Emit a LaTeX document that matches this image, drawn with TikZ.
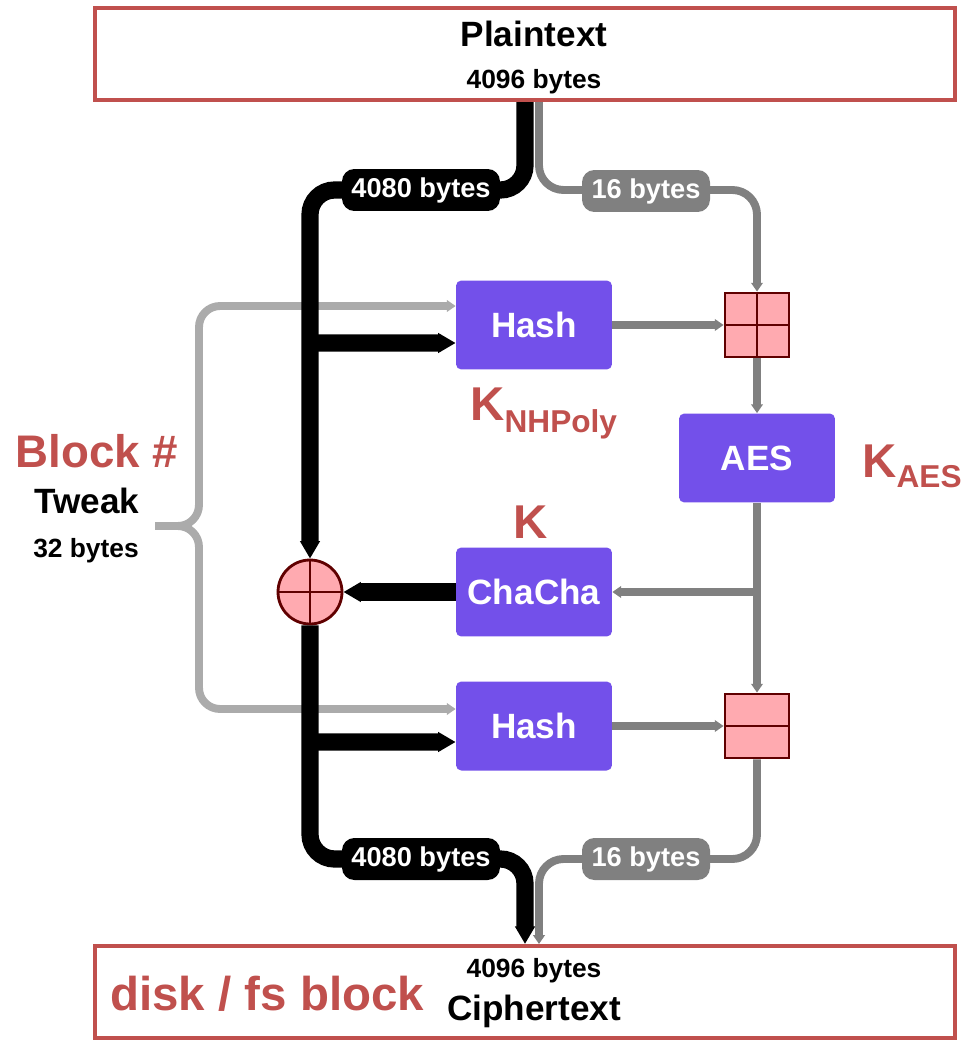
\documentclass[tikz,border=0pt]{standalone}
\usepackage{fontspec}
\setmainfont{Liberation Sans}
\usetikzlibrary{positioning,arrows.meta,calc}
\definecolor{frame}{RGB}{192,80,77}
\definecolor{block}{RGB}{115,80,234}
\definecolor{mix}{RGB}{255,170,176}
\definecolor{mixline}{RGB}{96,0,0}
\definecolor{wire}{RGB}{128,128,128}
\definecolor{tweakwire}{RGB}{171,171,171}
\newcommand{\sizept}[1]{\fontsize{#1}{#1}\selectfont}

\begin{document}
\begin{tikzpicture}[x=0.02cm, y=-0.02cm,
		frm/.style={draw=frame, line width=2.3pt, minimum width=17.2cm, minimum height=1.84cm, inner sep=0pt},
		blk/.style={fill=block, text=white, font=\bfseries\sizept{20}, minimum width=3.12cm, minimum height=1.78cm, rounded corners=3pt, inner sep=0pt},
		mixbox/.style={draw=mixline, fill=mix, line width=1.6pt, minimum size=1.28cm, inner sep=0pt},
		pill/.style={text=white, font=\bfseries\sizept{15.5}, rounded corners=7pt, minimum height=0.84cm, inner sep=0pt},
		lbl/.style={inner sep=0pt, anchor=base, font=\bfseries},
		key/.style={inner sep=0pt, anchor=base west, text=frame, font=\bfseries\sizept{27}},
		bwire/.style={line width=9.8pt, black, -{Triangle[length=10pt, width=10.8pt]}},
		gwire/.style={line width=4.5pt, wire, -{Triangle[length=5pt, width=6.5pt]}},
		twire/.style={line width=4.5pt, tweakwire, -{Triangle[length=5pt, width=6.5pt]}}]
	\useasboundingbox (0,0) rectangle (967,1040);
	% input and output blocks
	\node[frm] (plain) at (525,54) {};
	\node[lbl, font=\bfseries\sizept{20}] (plainname) at (534,47) {Plaintext};
	\node[lbl, font=\bfseries\sizept{15}] (plainsize) at (534,89) {4096 bytes};
	\node[frm] (cipher) at (525,992) {};
	\node[lbl, font=\bfseries\sizept{15}] (ciphersize) at (534,977) {4096 bytes};
	\node[lbl, font=\bfseries\sizept{20}] (ciphername) at (534,1020) {Ciphertext};
	\node[key] (disk) at (110,1010) {disk / fs block};
	% primitives
	\node[blk] (hashA) at (534,325) {Hash};
	\node[blk] (aes) at (757,458) {AES};
	\node[blk] (chacha) at (534,592) {ChaCha};
	\node[blk] (hashB) at (534,726) {Hash};
	\node[mixbox] (mixA) at (757,325) {};
	\draw[mixline, line width=1.6pt] (mixA.north) -- (mixA.south) (mixA.west) -- (mixA.east);
	\node[mixbox] (mixB) at (757,726) {};
	\draw[mixline, line width=1.6pt] (mixB.west) -- (mixB.east);
	\node[mixbox, circle] (xor) at (310,592) {};
	\draw[mixline, line width=1.6pt] (xor.north) -- (xor.south) (xor.west) -- (xor.east);
	% keys and tweak
	\node[key] (knh) at (470,420) {K\raisebox{-7pt}{\sizept{18}NHPoly}};
	\node[key, anchor=base] (kcc) at (531,538) {K};
	\node[key] (kaes) at (862,477) {K\raisebox{-6pt}{\sizept{18}AES}};
	\node[lbl, text=frame, font=\bfseries\sizept{26}] (blocknum) at (97,467) {Block \#};
	\node[lbl, font=\bfseries\sizept{20}] (tweak) at (87,513) {Tweak};
	\node[lbl, font=\bfseries\sizept{15}] (tweaksize) at (86,557) {32 bytes};
	\coordinate (tip) at (155,526);
	\draw[twire, rounded corners=12pt] (tip) -| (199,306) -- ([yshift=0.38cm]hashA.west);
	\draw[twire, rounded corners=12pt] (tip) -| (199,709) -- ([yshift=0.34cm]hashB.west);
	% 16 byte path
	\draw[gwire, rounded corners=14pt] ([xshift=0.28cm]plain.south) |- (757,190) -- (mixA.north);
	\draw[gwire] (hashA.east) -- (mixA.west);
	\draw[gwire] (mixA.south) -- (aes.north);
	\draw[gwire] (aes.south) -- (mixB.north);
	\draw[gwire] (aes.south |- chacha.east) -- (chacha.east);
	\draw[gwire] (hashB.east) -- (mixB.west);
	\draw[gwire, rounded corners=14pt] (mixB.south) |- (539,859) -- ([xshift=0.28cm]cipher.north);
	% 4080 byte path
	\draw[bwire, rounded corners=14pt] (plain.south) |- (310,190) -- (xor.north);
	\draw[bwire] (310,343) -- ([yshift=-0.36cm]hashA.west);
	\draw[bwire] (chacha.west) -- (xor.east);
	\draw[bwire] (310,742) -- ([yshift=-0.32cm]hashB.west);
	\draw[bwire, rounded corners=14pt] (xor.south) |- (525,859) -- (cipher.north);
	% lengths
	\node[pill, fill=black, minimum width=3.16cm] (lenA) at (421,190) {4080 bytes};
	\node[pill, fill=wire, minimum width=2.56cm] (lenB) at (646,191) {16 bytes};
	\node[pill, fill=black, minimum width=3.16cm] (lenC) at (421,859) {4080 bytes};
	\node[pill, fill=wire, minimum width=2.56cm] (lenD) at (646,859) {16 bytes};
\end{tikzpicture}
\end{document}
